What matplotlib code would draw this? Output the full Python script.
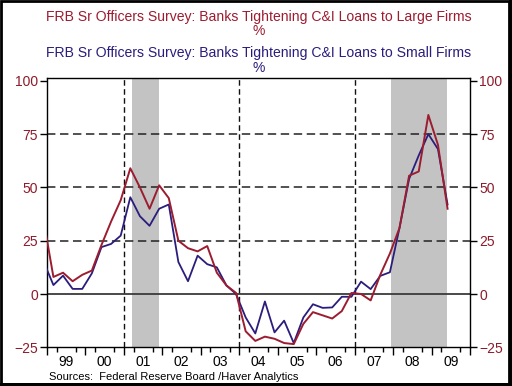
import numpy as np
import matplotlib.pyplot as plt
from matplotlib.patches import Rectangle

plt.rcParams['font.family'] = ['Liberation Sans', 'DejaVu Sans']

# quarterly survey dates 1998Q4 .. 2009Q2, plotted ~2 months into the quarter
quarters = np.arange(1998.75, 2009.5, 0.25) + 1 / 6

# % of banks tightening standards, large firms
large_firms = [34,
               8, 10, 6, 9,
               11, 23, 34, 44,
               59, 50, 40, 51,
               45, 25, 21.5, 20,
               22.5, 10, 4, 0.5,
               -17.5, -22, -20, -21,
               -23, -23.5, -14, -8.5,
               -10, -11.5, -8, 0.5,
               0, -3, 9, 19,
               31, 55.5, 57.5, 84,
               70, 40]

# % of banks tightening standards, small firms
small_firms = [15,
               4.2, 8.6, 2.4, 2.4,
               9.7, 22, 23.5, 27.4,
               45.4, 36.5, 32, 40,
               42, 15, 6, 18,
               14, 12.5, 4, 0,
               -11, -18.5, -3.5, -18,
               -12.5, -23, -11, -4.8,
               -6.5, -6.3, -1.3, -1.3,
               5.8, 2.3, 8.5, 10.2,
               31, 54, 65, 75,
               68, 42]

recessions = [(2001.22, 2001.9), (2007.95, 2009.4)]
years = list(range(1999, 2010))
year_labels = ['99', '00', '01', '02', '03', '04', '05', '06', '07', '08', '09']
y_ticks = [-25, 0, 25, 50, 75, 100]

RED = '#9c1c30'
BLUE = '#2a1d7c'
TICKRED = '#8e1a2a'

fig = plt.figure(figsize=(5.12, 3.86), dpi=100)
ax = fig.add_axes([47 / 512, 38.7 / 386, 423 / 512, 269 / 386])

for start, end in recessions:
    ax.axvspan(start, end, color='#c3c3c3', lw=0, zorder=0)

for v in [25, 50, 75]:
    ax.axhline(v, color='#222222', lw=1.1, ls=(0, (5.5, 3)), zorder=1)
ax.axhline(0, color='#3a3a3a', lw=1.3, zorder=1)
for v in [2001, 2004, 2007]:
    ax.axvline(v, color='#111111', lw=1.0, ls=(0, (4, 2.5)), zorder=1)

ax.plot(quarters, small_firms, color=BLUE, lw=1.3, zorder=3)
ax.plot(quarters, large_firms, color=RED, lw=1.4, zorder=4)

ax.set_xlim(1999, 2010)
ax.set_ylim(-25, 101.2)

ax.set_yticks(y_ticks)
ax.tick_params(axis='y', which='both', direction='out', length=5, width=1,
               pad=1.5, labelsize=10, labelcolor=TICKRED,
               left=True, right=True, labelleft=True, labelright=True)

ax.set_xticks(years + [2010])
ax.set_xticklabels([])
ax.set_xticks([y + q for y in years for q in (0.25, 0.75)], minor=True)
ax.tick_params(axis='x', which='major', direction='out', length=6, width=1)
ax.tick_params(axis='x', which='minor', direction='out', length=3.8, width=1)
for y, lab in zip(years, year_labels):
    ax.text(y + 0.5, -0.028, lab, transform=ax.get_xaxis_transform(),
            ha='center', va='top', fontsize=10, color='black')

for s in ax.spines.values():
    s.set_linewidth(1.0)
    s.set_color('black')

fig.text(0.505, 1 - 16.5 / 386, 'FRB Sr Officers Survey: Banks Tightening C&I Loans to Large Firms',
         ha='center', va='center', fontsize=10.1, color=RED)
fig.text(0.505, 1 - 31 / 386, '%', ha='center', va='center', fontsize=10, color=RED)
fig.text(0.505, 1 - 53 / 386, 'FRB Sr Officers Survey: Banks Tightening C&I Loans to Small Firms',
         ha='center', va='center', fontsize=10.1, color=BLUE)
fig.text(0.505, 1 - 68 / 386, '%', ha='center', va='center', fontsize=10, color=BLUE)

fig.text(49 / 512, 1 - 377 / 386, 'Sources:  Federal Reserve Board /Haver Analytics',
         ha='left', va='center', fontsize=8)

# image border with a heavier bottom/right edge
fig.patches.append(Rectangle((0.002, 0.005), 0.993, 0.992, transform=fig.transFigure,
                             fill=False, ec='black', lw=2.0))
fig.patches.append(Rectangle((0.0, 0.0), 1.0, 0.009, transform=fig.transFigure,
                             fc='black', ec='none'))
fig.patches.append(Rectangle((0.994, 0.0), 0.006, 1.0, transform=fig.transFigure,
                             fc='black', ec='none'))

fig.savefig('out.png', dpi=100)
